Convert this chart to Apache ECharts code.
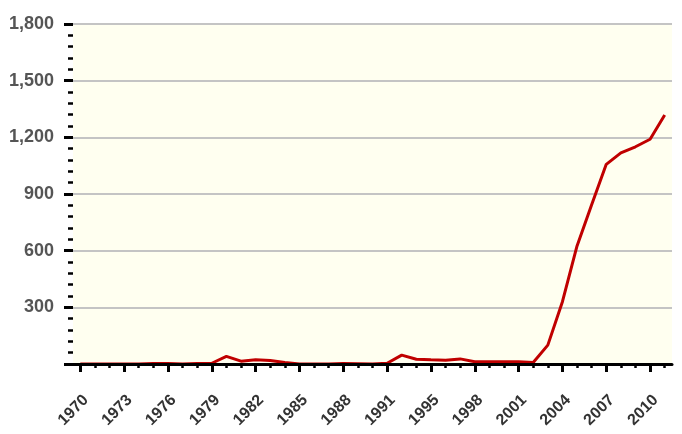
<!DOCTYPE html>
<html>
<head>
<meta charset="utf-8">
<script src="https://cdn.jsdelivr.net/npm/echarts@6/dist/echarts.min.js"></script>
<style>
html,body{margin:0;padding:0;background:#fff;}
#chart{width:682px;height:434px;}
</style>
</head>
<body>
<div id="chart"></div>
<script>
var years = ['1970','1971','1972','1973','1974','1975','1976','1977','1978','1979',
  '1980','1981','1982','1983','1984','1985','1986','1987','1988','1989','1990','1991',
  '1992','1993','1995','1996','1997','1998','1999','2000','2001','2002','2003','2004',
  '2005','2006','2007','2008','2009','2010','2011'];
var values = [0,0,0,0,0,2,2,0,2,4,
  40,15,22,18,8,0,0,0,2,1,0,4,
  47,25,22,20,27,12,12,12,12,8,100,330,
  625,843,1057,1118,1150,1190,1318];
var yTicks = { min: 0, max: 1800, step: 300 };

var font = '"Liberation Sans", Arial, sans-serif';
var chart = echarts.init(document.getElementById('chart'), null, {renderer: 'canvas'});
chart.setOption({
  animation: false,
  backgroundColor: '#ffffff',
  grid: {
    left: 73, right: 10, top: 24, bottom: 70,
    show: true, backgroundColor: '#fffff0', borderWidth: 0
  },
  xAxis: [{
    type: 'category',
    data: years,
    boundaryGap: true,
    position: 'bottom',
    z: 5,
    axisLine: { show: true, lineStyle: { color: '#000', width: 3 } },
    axisTick: { show: true, alignWithLabel: true, interval: 0, length: 4,
      lineStyle: { color: '#000', width: 2.5 } },
    axisLabel: { interval: 2, rotate: 45, margin: 28, verticalAlign: 'top',
      fontFamily: font, fontWeight: 'bold', fontSize: 16, color: '#333' },
    splitLine: { show: false }
  }, {
    type: 'category',
    data: years,
    boundaryGap: true,
    position: 'bottom',
    z: 5,
    axisLine: { show: false },
    axisTick: { show: true, alignWithLabel: true, interval: 2, length: 8,
      lineStyle: { color: '#000', width: 3 } },
    axisLabel: { show: false },
    splitLine: { show: false }
  }],
  yAxis: {
    type: 'value',
    min: yTicks.min, max: yTicks.max, interval: yTicks.step,
    axisLine: { show: false },
    axisTick: { show: true, length: 9, lineStyle: { color: '#000', width: 3 } },
    minorTick: { show: true, splitNumber: 5, length: 5, lineStyle: { color: '#000', width: 2.5 } },
    splitLine: { show: true, lineStyle: { color: '#c4c4c4', width: 2 } },
    axisLabel: {
      margin: 19,
      fontFamily: font, fontWeight: 'bold', fontSize: 18, color: '#555',
      formatter: function (v) { return v === 0 ? '' : v.toLocaleString('en-US'); }
    }
  },
  series: [{
    type: 'line',
    data: values,
    xAxisIndex: 0,
    showSymbol: false,
    symbol: 'none',
    smooth: false,
    lineStyle: { color: '#c00000', width: 3 },
    z: 2
  }]
});
</script>
</body>
</html>
